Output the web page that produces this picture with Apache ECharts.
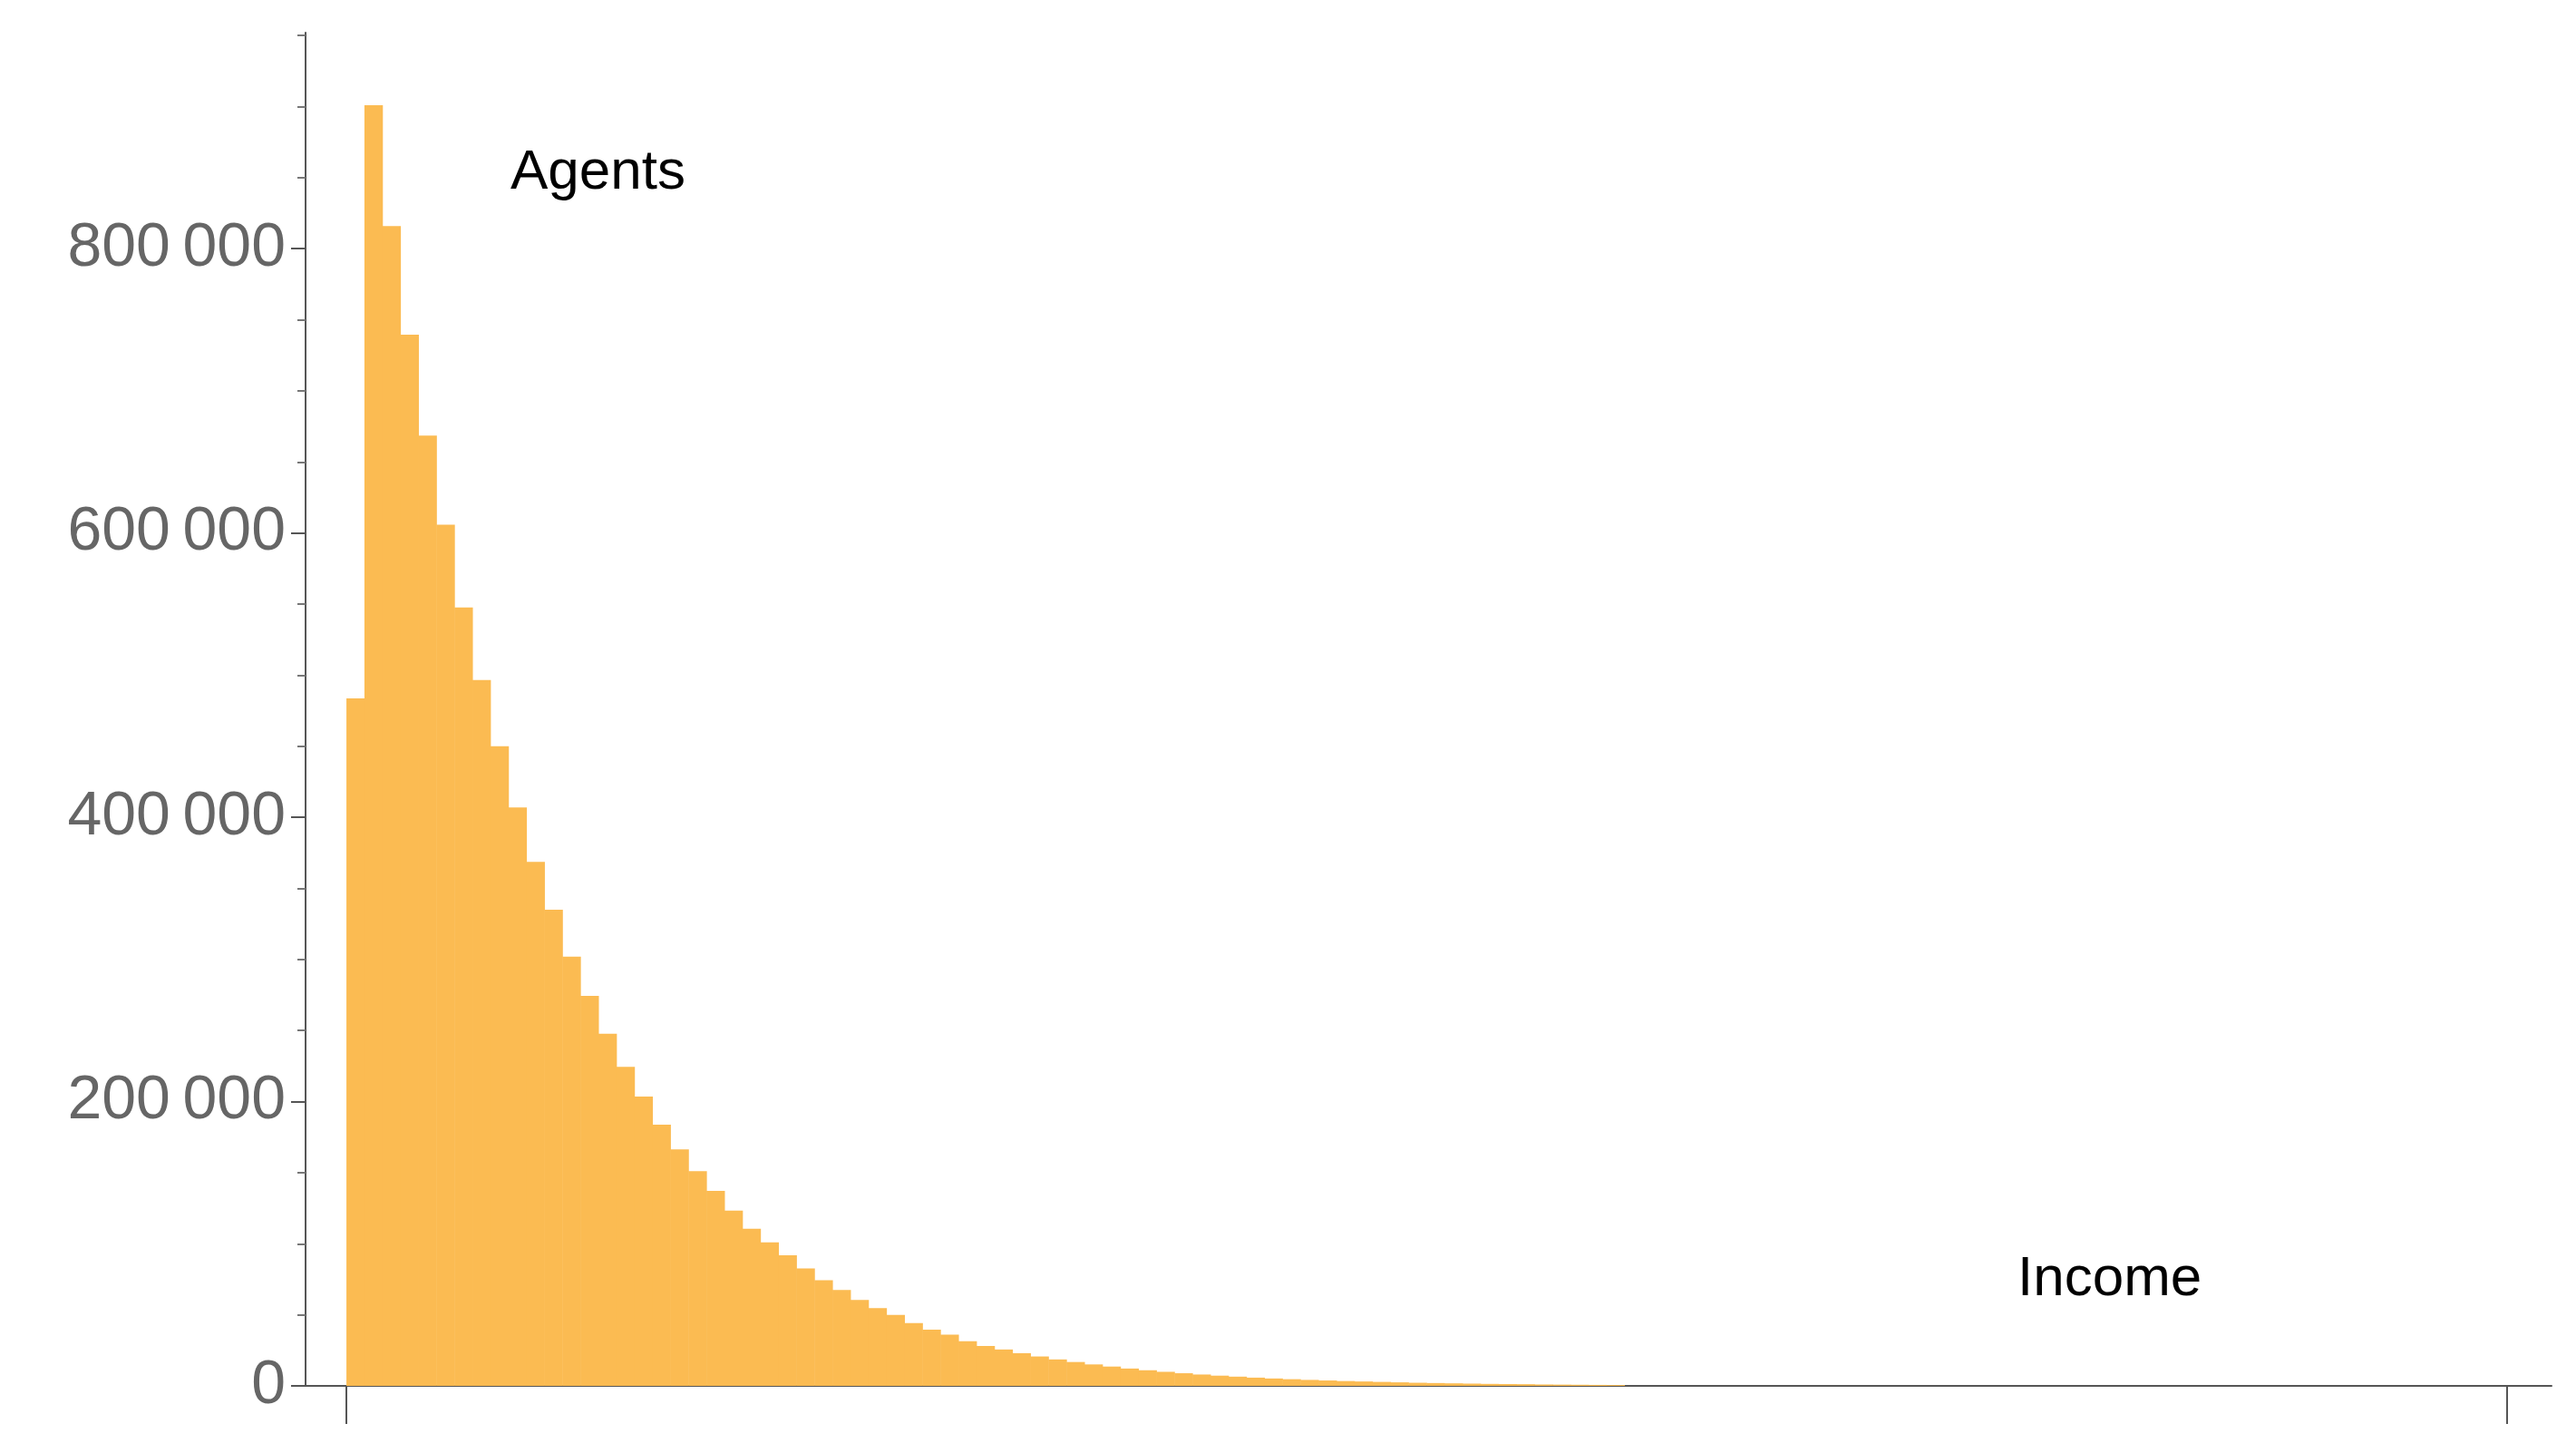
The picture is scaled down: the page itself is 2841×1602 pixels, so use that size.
<!DOCTYPE html>
<html><head><meta charset="utf-8">
<script src="https://cdn.jsdelivr.net/npm/echarts@6/dist/echarts.min.js"></script>
<style>html,body{margin:0;padding:0;background:#fff}#c{width:2841px;height:1602px}</style>
</head><body><div id="c"></div>
<script>
const counts = [483700,901000,816000,739500,668600,605800,547700,496500,450000,407000,
368600,335000,302000,274400,247700,224400,203500,183700,166300,151000,
137200,123300,110500,101000,91900,82600,74400,67400,60500,54700,
50000,44200,39500,36000,31400,28000,25600,23000,20700,18600,
16800,15100,13600,12200,11000,9900,8900,8000,7200,6500,
5800,5200,4700,4200,3800,3400,3100,2800,2500,2200,
2000,1800,1600,1400,1300,1200,1000,900,800,700,600];
const yTicks = [0,200000,400000,600000,800000];
const xTicks = [0,120];
const data = counts.map((v,i)=>[i,v]);
const chart = echarts.init(document.getElementById('c'));
chart.setOption({
  animation:false,
  grid:{left:337,right:27,top:36,bottom:74},
  xAxis:{type:'value',min:-2.27,max:122.5,
    axisLine:{show:true,lineStyle:{color:'#555',width:2}},
    axisTick:{show:true,inside:false,length:42,customValues:xTicks,lineStyle:{color:'#555',width:2}},
    axisLabel:{show:false},splitLine:{show:false}},
  yAxis:{type:'value',min:0,max:952000,
    axisLine:{show:true,onZero:false,lineStyle:{color:'#555',width:2}},
    axisTick:{show:true,length:16,customValues:yTicks,lineStyle:{color:'#555',width:2}},
    minorTick:{show:true,splitNumber:4,length:9,lineStyle:{color:'#777',width:2}},
    axisLabel:{customValues:yTicks,fontFamily:'Liberation Sans',fontSize:68,color:'#666',margin:22,
      formatter:v=>String(v).replace(/\B(?=(\d{3})+(?!\d))/g,'\u2009')},
    splitLine:{show:false}},
  series:[{type:'custom',data:data,renderItem:(p,api)=>{
    const i=api.value(0),v=api.value(1);
    const a=api.coord([i,v]),b=api.coord([i+1,0]);
    return {type:'rect',shape:{x:a[0],y:a[1],width:b[0]-a[0]+0.5,height:b[1]-a[1]},
      style:{fill:'#FBBB52'}};
  }}],
  graphic:[
    {type:'text',left:563,top:160,style:{text:'Agents',font:'62px "Liberation Sans"',fill:'#000'}},
    {type:'text',left:2225,top:1380,style:{text:'Income',font:'62px "Liberation Sans"',fill:'#000'}}
  ]
});
</script></body></html>
